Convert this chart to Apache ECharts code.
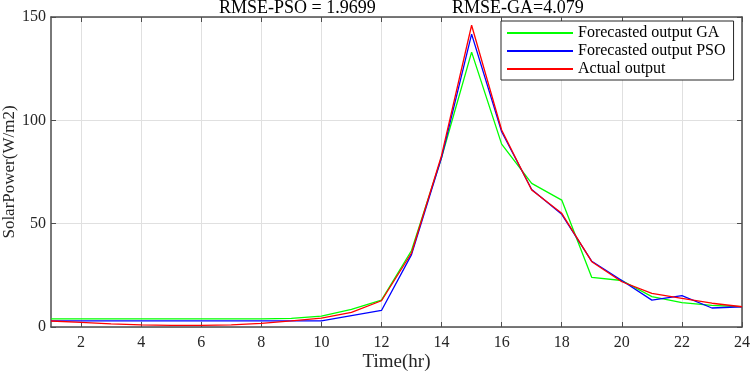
<!DOCTYPE html>
<html>
<head>
<meta charset="utf-8">
<script src="https://cdn.jsdelivr.net/npm/echarts@6/dist/echarts.min.js"></script>
<style>
  html, body { margin: 0; padding: 0; background: #fff; }
  #main { width: 751px; height: 371px; }
</style>
</head>
<body>
<div id="main"></div>
<script>
var hours = [1,2,3,4,5,6,7,8,9,10,11,12,13,14,15,16,17,18,19,20,21,22,23,24];
var gaOut = [3.9,3.9,3.9,3.9,3.9,3.9,3.9,3.9,4.2,5.3,8.5,13,37,82,133,88.5,69.5,61.4,24,22.5,14.7,11.8,10.5,9.8];
var psoOut = [3,3,3,3,3,3,3,3,3,3,5.5,8,35,82,141.7,94.5,66.5,54.5,31.8,22.5,13,15.2,9.2,9.8];
var actual = [2.9,2.2,1.5,1,0.8,0.8,1,1.8,3,4.3,7.1,12.7,35.8,83,146,95.3,66.3,55,31.6,21.9,16.3,13.9,11.5,9.8];
var xTicks = [2,4,6,8,10,12,14,16,18,20,22,24];
var yTicks = [0,50,100,150];

var myChart = echarts.init(document.getElementById('main'));

function pairs(arr) {
	var out = [];
	for (var i = 0; i < hours.length; i++) {
		out.push([hours[i], arr[i]]);
	}
	return out;
}

var font = 'Liberation Serif';
var axisCol = '#4d4d4d';

option = {
	animation: false,
	backgroundColor: '#fff',
	title: [
		{
			text: 'RMSE-PSO = 1.9699',
			left: 214, top: -6,
			textStyle: { fontFamily: font, fontSize: 18, fontWeight: 'normal', color: '#000' }
		},
		{
			text: 'RMSE-GA=4.079',
			left: 447, top: -6,
			textStyle: { fontFamily: font, fontSize: 18, fontWeight: 'normal', color: '#000' }
		}
	],
	legend: {
		orient: 'vertical',
		left: 501, top: 21,
		padding: [4, 8, 3, 6],
		itemGap: 2,
		itemWidth: 66,
		itemHeight: 2,
		icon: 'rect',
		borderColor: '#262626',
		borderWidth: 1,
		backgroundColor: '#fff',
		textStyle: { fontFamily: font, fontSize: 16, color: '#000', lineHeight: 16 },
		data: ['Forecasted output GA', 'Forecasted output PSO', 'Actual output']
	},
	grid: { left: 51, right: 9, top: 17, bottom: 44, outerBoundsMode: 'none', containLabel: false },
	xAxis: [
		{
			type: 'value', min: 1, max: 24,
			name: 'Time(hr)', nameLocation: 'middle', nameGap: 26, nameMoveOverlap: false,
			nameTextStyle: { fontFamily: font, fontSize: 19, color: '#262626' },
			axisLine: { show: true, lineStyle: { color: axisCol, width: 1.5 } },
			axisTick: { inside: true, length: 5, customValues: xTicks, lineStyle: { color: axisCol } },
			axisLabel: { customValues: xTicks, fontFamily: font, fontSize: 16, color: '#262626', margin: 8 },
			splitLine: { show: true, lineStyle: { color: '#e0e0e0', width: 1 } }
		},
		{
			type: 'value', min: 1, max: 24, position: 'top',
			axisLine: { show: true, onZero: false, lineStyle: { color: axisCol, width: 1.5 } },
			axisTick: { inside: true, length: 5, customValues: xTicks, lineStyle: { color: axisCol } },
			axisLabel: { show: false },
			splitLine: { show: false }
		}
	],
	yAxis: [
		{
			type: 'value', min: 0, max: 150, interval: 50,
			name: 'SolarPower(W/m2)', nameLocation: 'middle', nameGap: 33, nameMoveOverlap: false,
			nameTextStyle: { fontFamily: font, fontSize: 17, color: '#262626' },
			axisLine: { show: true, lineStyle: { color: axisCol, width: 1.5 } },
			axisTick: { show: true, inside: true, length: 5, lineStyle: { color: axisCol } },
			axisLabel: { fontFamily: font, fontSize: 16, color: '#262626', margin: 5 },
			splitLine: { show: true, lineStyle: { color: '#e0e0e0', width: 1 } }
		},
		{
			type: 'value', min: 0, max: 150, interval: 50, position: 'right',
			axisLine: { show: true, onZero: false, lineStyle: { color: axisCol, width: 1.5 } },
			axisTick: { show: true, inside: true, length: 5, lineStyle: { color: axisCol } },
			axisLabel: { show: false },
			splitLine: { show: false }
		}
	],
	series: [
		{
			name: 'Forecasted output GA', type: 'line', data: pairs(gaOut),
			showSymbol: false, color: '#00ff00', lineStyle: { width: 1.3 }
		},
		{
			name: 'Forecasted output PSO', type: 'line', data: pairs(psoOut),
			showSymbol: false, color: '#0000ff', lineStyle: { width: 1.3 }
		},
		{
			name: 'Actual output', type: 'line', data: pairs(actual),
			showSymbol: false, color: '#ff0000', lineStyle: { width: 1.3 }
		}
	]
};

myChart.setOption(option);
</script>
</body>
</html>
